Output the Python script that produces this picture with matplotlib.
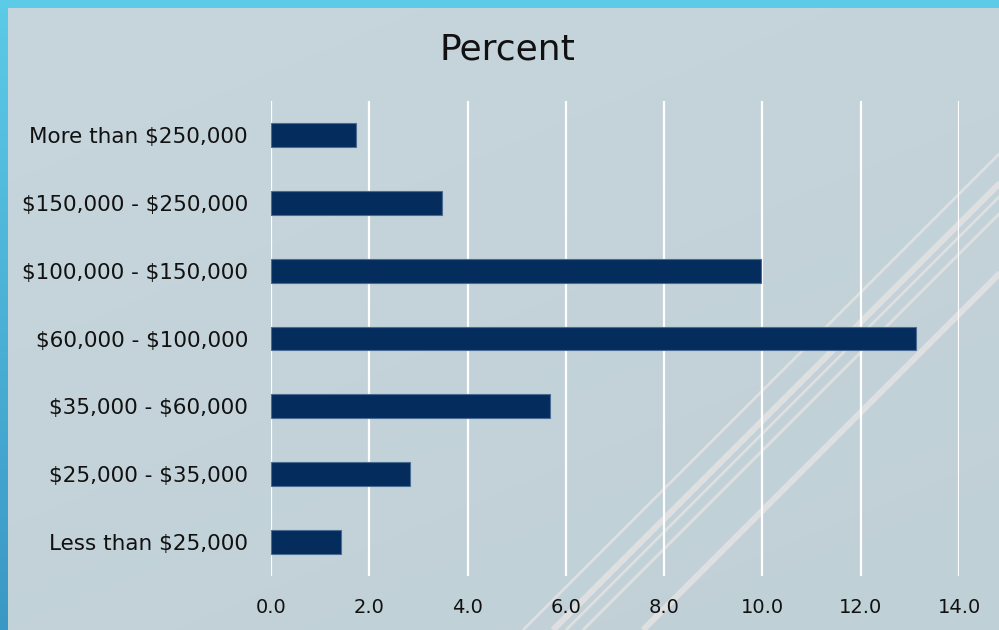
import numpy as np
import matplotlib
matplotlib.use("Agg")
import matplotlib.pyplot as plt
from matplotlib.lines import Line2D
from matplotlib.patches import Rectangle

plt.rcParams["text.parse_math"] = False

categories = ["Less than $25,000", "$25,000 - $35,000", "$35,000 - $60,000",
              "$60,000 - $100,000", "$100,000 - $150,000", "$150,000 - $250,000",
              "More than $250,000"]
percent = [1.42, 2.83, 5.68, 13.13, 9.97, 3.47, 1.73]
x_ticks = [0, 2, 4, 6, 8, 10, 12, 14]
x_tick_labels = ["0.0", "2.0", "4.0", "6.0", "8.0", "10.0", "12.0", "14.0"]
title = "Percent"

W, H = 999, 630
fig = plt.figure(figsize=(W / 100, H / 100), dpi=100)
fig.patch.set_facecolor("#5CCBE7")

# background panel with gentle gradient
bg = fig.add_axes([0, 0, 1, 1], zorder=0)
bg.set_xlim(0, W)
bg.set_ylim(H, 0)
bg.axis("off")
yy = np.linspace(0, 1, 256).reshape(-1, 1)
c_top = np.array(matplotlib.colors.to_rgb("#5CCBE7"))
c_bot = np.array(matplotlib.colors.to_rgb("#3A98C5"))
border = c_top + (c_bot - c_top) * yy
bg.imshow(border[:, None, :].repeat(2, axis=1), extent=[0, 8, H, 0], aspect="auto", zorder=0)
bg.add_patch(Rectangle((0, 0), W, 8, color="#5CCBE7", zorder=1, lw=0))
gy = np.linspace(0, 1, 256).reshape(-1, 1)
gx = np.linspace(0, 1, 256).reshape(1, -1)
p_tl = np.array(matplotlib.colors.to_rgb("#C7D6DC"))
p_br = np.array(matplotlib.colors.to_rgb("#C0D0D7"))
t = (0.6 * gy + 0.4 * gx)[..., None]
panel = p_tl + (p_br - p_tl) * t
bg.imshow(panel, extent=[8, W, H, 8], aspect="auto", zorder=2)

# decorative diagonal lines
lines = [(523, 2.0), (553, 4.5), (566, 2.0), (583, 2.1), (643, 4.5)]
for x0, lw in lines:
    bg.add_line(Line2D([x0, x0 + 500], [H, H - 500], color="#DEDFE0", lw=lw, zorder=3,
                       solid_capstyle="butt"))

ax = fig.add_axes([271 / W, 1 - 576 / H, (959 - 271) / W, (576 - 101) / H], zorder=2)
ax.patch.set_alpha(0)
y = np.arange(len(categories))
ax.barh(y, percent, height=0.35, color="#042D5E", edgecolor="#4A6C93", linewidth=0.8, zorder=3)
ax.set_xlim(0, 14)
ax.set_ylim(-0.5, len(categories) - 0.5)
ax.set_xticks(x_ticks)
ax.set_xticklabels(x_tick_labels)
ax.set_yticks(y)
ax.set_yticklabels(categories)
ax.grid(axis="x", color="white", lw=1.6, zorder=1)
ax.set_axisbelow(True)
for s in ax.spines.values():
    s.set_visible(False)
ax.tick_params(axis="both", length=0, colors="#111111")
ax.tick_params(axis="y", pad=16.5, labelsize=15.5)
ax.tick_params(axis="x", pad=16, labelsize=14)

fig.text(507 / W, 1 - 59.5 / H, title, ha="center", va="baseline", fontsize=26, color="#111111")

fig.savefig("out.png", dpi=100)
